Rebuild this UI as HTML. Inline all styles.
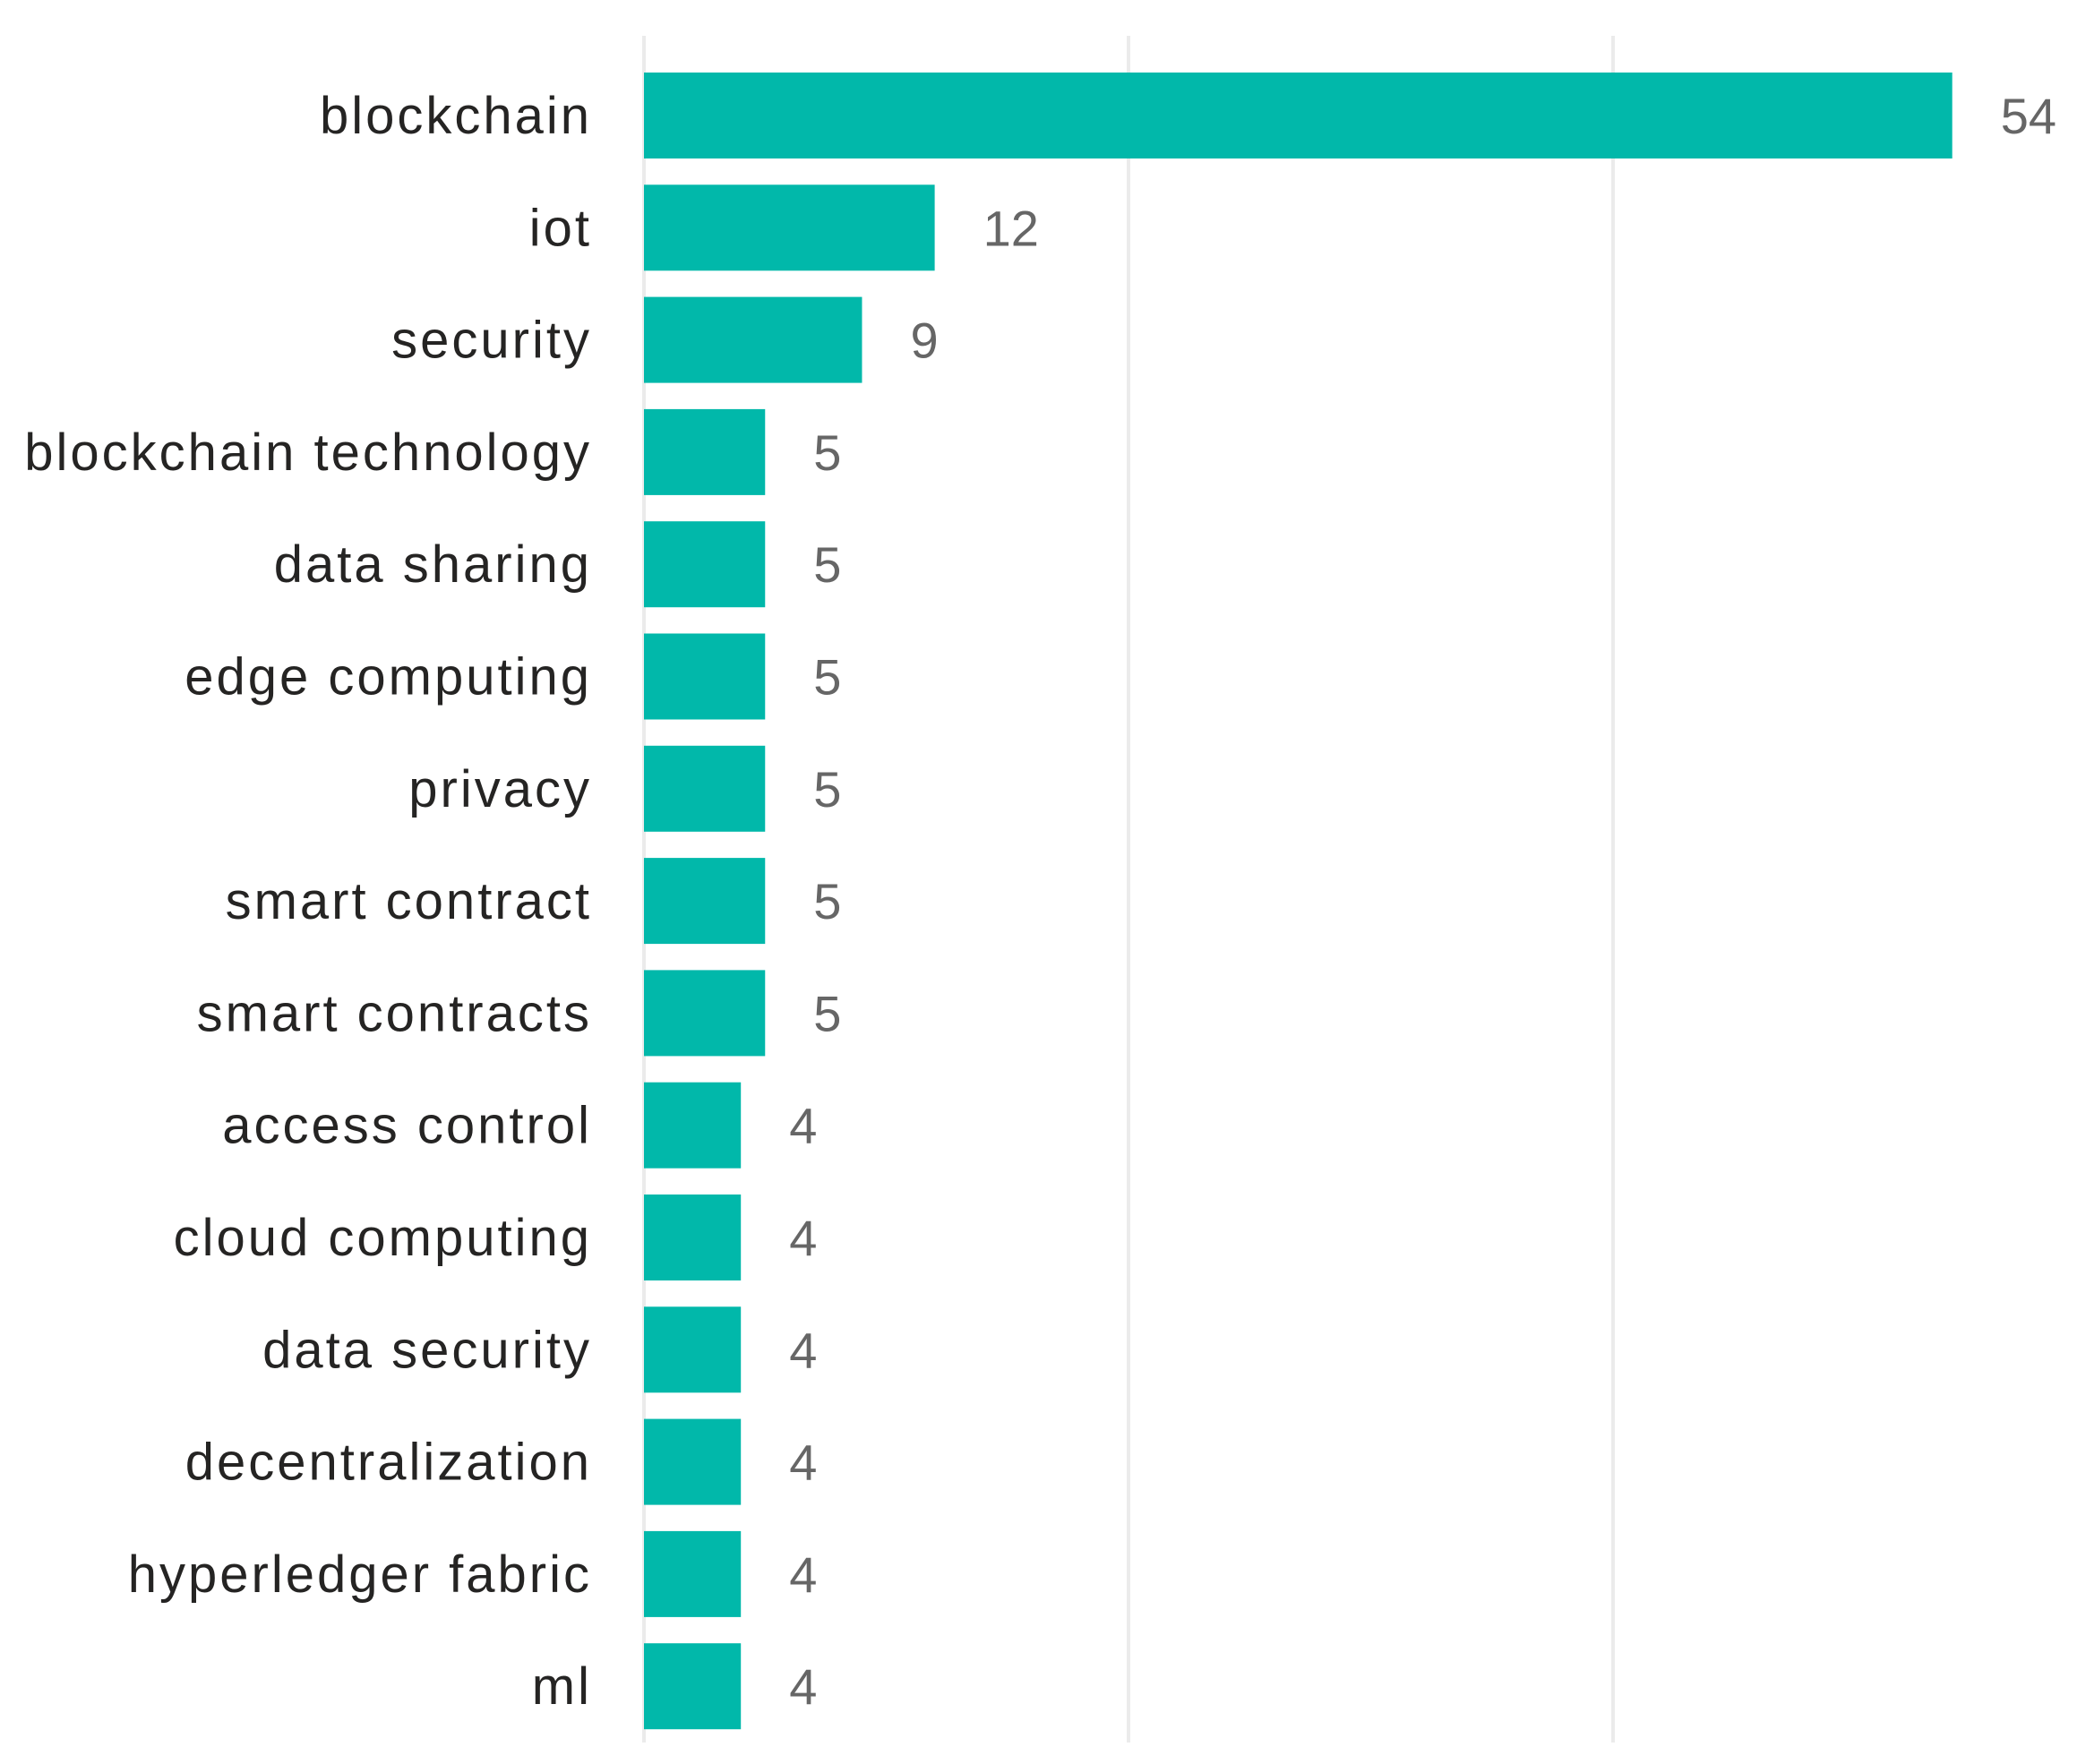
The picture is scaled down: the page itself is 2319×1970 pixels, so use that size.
<!DOCTYPE html>
<html><head><meta charset="utf-8"><style>
html,body{margin:0;padding:0;background:#fff;}
svg{display:block;}
</style></head><body>
<svg id="chart" width="2319" height="1970" viewBox="0 0 2319 1970" xmlns="http://www.w3.org/2000/svg">
<g id="grid"></g>
<g id="bars"></g>
<g id="labels"></g>
<g id="values"></g>
</svg>
<script>
const categories = ["blockchain","iot","security","blockchain technology","data sharing","edge computing","privacy","smart contract","smart contracts","access control","cloud computing","data security","decentralization","hyperledger fabric","ml"];
const counts = [54,12,9,5,5,5,5,5,5,4,4,4,4,4,4];
const gridTicks = [0,20,40];

const NS = "http://www.w3.org/2000/svg";
const x0 = 719, unit = 27.05;
const top0 = 81, pitch = 125.3, barH = 96;
function xScale(v){ return x0 + v*unit; }
function yScale(i){ return top0 + i*pitch; }
function mk(tag, attrs, parent){
  const el = document.createElementNS(NS, tag);
  for (const k in attrs) el.setAttribute(k, attrs[k]);
  parent.appendChild(el);
  return el;
}
const grid = document.getElementById('grid');
gridTicks.forEach(t => {
  const l = mk('line', {x1:xScale(t), x2:xScale(t), y1:40, y2:1946, stroke:'#ebebeb', 'stroke-width':4}, grid);
  
  
});
const bars = document.getElementById('bars');
const labels = document.getElementById('labels');
const values = document.getElementById('values');
categories.forEach((c, i) => {
  const y = yScale(i);
  const r = mk('rect', {x:x0, y:y, width:xScale(counts[i]) - x0, height:barH, fill:'#01B8AA'}, bars);
  
  
  const t = mk('text', {x:661, y:y + barH/2 + 20, 'text-anchor':'end', 'font-family':'"Liberation Sans", sans-serif', 'font-size':58, 'letter-spacing':3, fill:'#252423'}, labels);
  t.textContent = c;
  
  
  const v = mk('text', {x:xScale(counts[i]) + 54, y:y + barH/2 + 20, 'font-family':'"Liberation Sans", sans-serif', 'font-size':56, fill:'#666666'}, values);
  v.textContent = counts[i];
  
  
});
</script>
</body></html>
